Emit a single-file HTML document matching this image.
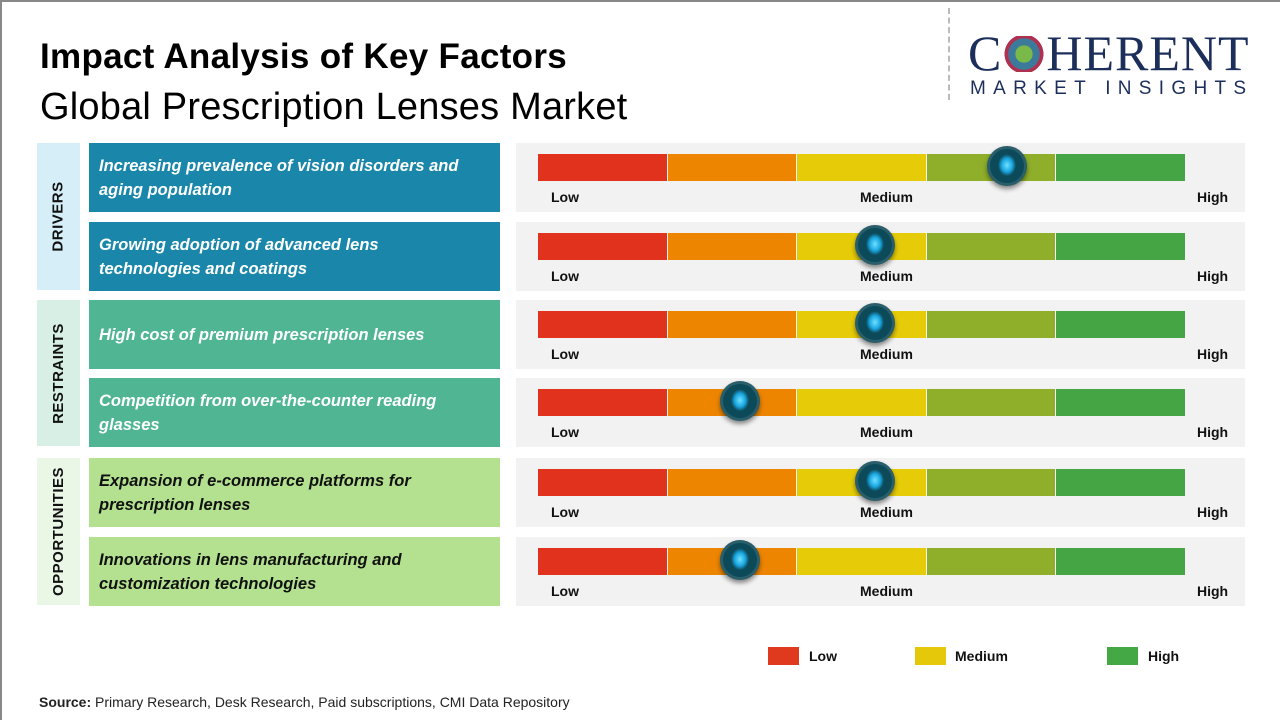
<!DOCTYPE html>
<html><head><meta charset="utf-8"><style>
body{margin:0;width:1280px;height:720px;background:#fff;font-family:"Liberation Sans",sans-serif;overflow:hidden;position:relative}
.abs{position:absolute}
.frame{left:0;top:0;width:1278px;height:718px;border-top:2px solid #888;border-left:2px solid #888}
.cat{left:37px;width:43px;display:flex;align-items:center;justify-content:center}
.cat span{transform:rotate(-90deg);white-space:nowrap;font-weight:bold;font-size:15px;color:#111;letter-spacing:.5px}
.fac{left:89px;width:411px;color:#fff;font-style:italic;font-weight:bold;font-size:16.5px;line-height:24px;padding-left:10px;padding-right:36px;box-sizing:border-box;display:flex;align-items:center}
.panel{left:516px;width:729px;background:#f2f2f2}
.lbl{font-size:14px;font-weight:bold;color:#111}
</style></head><body>
<div class="abs frame"></div>
<div class="abs" style="left:40px;top:37px;font-size:35px;font-weight:bold;color:#000;letter-spacing:.3px">Impact Analysis of Key Factors</div>
<div class="abs" style="left:40px;top:86px;font-size:38px;color:#000;letter-spacing:.2px">Global Prescription Lenses Market</div>
<div class="abs" style="left:948px;top:8px;height:92px;border-left:2px dashed #bbb"></div>
<div class="abs" style="left:968px;top:28px;font-family:'Liberation Serif',serif;font-size:50px;color:#1c2e5a;letter-spacing:1px;line-height:50px">C<span style="display:inline-block;width:44px;height:36px;vertical-align:-2px;background:radial-gradient(circle,#7ab84a 0 30%,#3b7a9a 31% 55%,#b03050 56% 68%,transparent 69%)"></span>HERENT</div>
<div class="abs" style="left:970px;top:78px;font-size:19px;color:#1c2e5a;letter-spacing:7.3px">MARKET INSIGHTS</div>

<div id="rows"></div>

<div class="abs" style="left:768px;top:647px;width:31px;height:18px;background:#e03a1e"></div>
<div class="abs lbl" style="left:809px;top:648px">Low</div>
<div class="abs" style="left:915px;top:647px;width:31px;height:18px;background:#e6c80a"></div>
<div class="abs lbl" style="left:955px;top:648px">Medium</div>
<div class="abs" style="left:1107px;top:647px;width:31px;height:18px;background:#44a844"></div>
<div class="abs lbl" style="left:1148px;top:648px">High</div>
<div class="abs" style="left:39px;top:694px;font-size:14px;color:#222"><b>Source:</b> Primary Research, Desk Research, Paid subscriptions, CMI Data Repository</div>

<script>
const factors=["Increasing prevalence of vision disorders and aging population","Growing adoption of advanced lens technologies and coatings","High cost of premium prescription lenses","Competition from over-the-counter reading glasses","Expansion of e-commerce platforms for prescription lenses","Innovations in lens manufacturing and customization technologies"];
const groups=["DRIVERS","DRIVERS","RESTRAINTS","RESTRAINTS","OPPORTUNITIES","OPPORTUNITIES"];
const impact=[3.62,2.6,2.6,1.56,2.6,1.56]; // position on 0..5 scale
const segColors=["#e0321c","#ee8500","#e6cb08","#8fae2a","#45a545"];
const rowTops=[143,222,300,378,458,537];
const gStyle={DRIVERS:["#d6eef8","#1a87aa","#fff"],RESTRAINTS:["#d7efe5","#50b593","#fff"],OPPORTUNITIES:["#eaf6e6","#b3e190","#111"]};
const root=document.getElementById('rows');
const barX=538,barW=648,scale=v=>barX+v/5*barW;
function mk(cls,st){const d=document.createElement('div');d.className='abs '+(cls||'');d.style.cssText=st;root.appendChild(d);return d;}
let i=0;
while(i<groups.length){let j=i;while(j<groups.length&&groups[j]===groups[i])j++;
 const c=mk('cat',`top:${rowTops[i]}px;height:${rowTops[j-1]+68-rowTops[i]}px;background:${gStyle[groups[i]][0]}`);
 
 
 c.innerHTML='<span>'+groups[i]+'</span>';i=j;}
factors.forEach((f,k)=>{
 const t=rowTops[k],g=gStyle[groups[k]];
 const b=mk('fac',`top:${t}px;height:69px;background:${g[1]};color:${g[2]}`);
 
 
 b.textContent=f;
 const p=mk('panel',`top:${t}px;height:69px`);
 
 
 segColors.forEach((c,s)=>{
  const x=scale(s),w=scale(s+1)-x;
  const sg=mk('',`left:${x}px;top:${t+11}px;width:${w-1}px;height:27px;background:${c}`);
  
  
 });
 [["Low",551],["Medium",860],["High",1197]].forEach(([l,x])=>{
  const e=mk('lbl',`left:${x}px;top:${t+46}px`);
  
  
  e.textContent=l;});
 const cx=scale(impact[k]);
 const kn=mk('',`left:${cx-20}px;top:${t+3}px;width:40px;height:40px;border-radius:50%;background:radial-gradient(ellipse 9px 11px at 50% 48%,#6fe0ff 0,#1aa6e0 60%,#0c4a5a 100%) , #1c4a56;box-shadow:0 3px 5px rgba(0,0,0,.45),inset 0 0 0 3px #2a5e6a`);
 
 
});
</script>
</body></html>
